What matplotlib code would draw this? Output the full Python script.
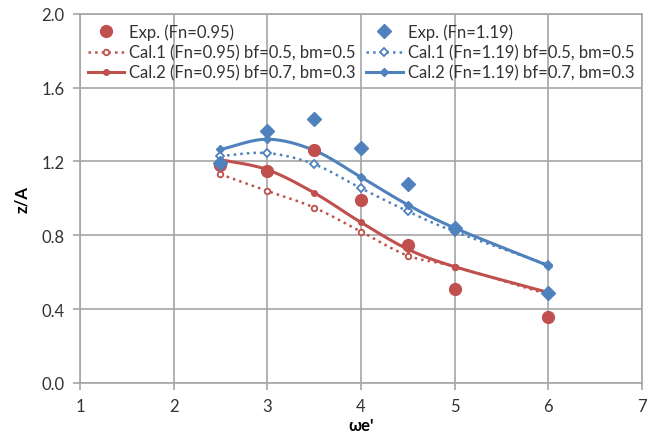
import numpy as np
import matplotlib
matplotlib.use("Agg")
import matplotlib.pyplot as plt

plt.rcParams['font.family'] = ['Lato', 'DejaVu Sans']

# data
x_exp = [2.5, 3, 3.5, 4, 4.5, 5, 6]
exp_095 = [1.18, 1.15, 1.26, 0.99, 0.75, 0.51, 0.36]
exp_119 = [1.19, 1.365, 1.43, 1.27, 1.08, 0.84, 0.49]

x_cal = [2.5, 3, 3.5, 4, 4.5, 5, 6]
cal1_095 = [1.13, 1.04, 0.95, 0.82, 0.69, 0.63, 0.48]
cal2_095 = [1.21, 1.155, 1.03, 0.87, 0.725, 0.63, 0.49]
cal1_119 = [1.23, 1.245, 1.185, 1.055, 0.93, 0.82, 0.64]
cal2_119 = [1.265, 1.32, 1.26, 1.115, 0.965, 0.84, 0.635]

red = '#C0504D'
blue = '#4F81BD'


def smooth(xs, ys, n=20):
    # catmull-rom style curve like excel's smoothed line
    xs = np.asarray(xs, float)
    ys = np.asarray(ys, float)
    px = np.concatenate([[2 * xs[0] - xs[1]], xs, [2 * xs[-1] - xs[-2]]])
    py = np.concatenate([[2 * ys[0] - ys[1]], ys, [2 * ys[-1] - ys[-2]]])
    outx, outy = [], []
    t = np.linspace(0, 1, n)
    for i in range(1, len(px) - 2):
        for p, out in ((px, outx), (py, outy)):
            p0, p1, p2, p3 = p[i - 1], p[i], p[i + 1], p[i + 2]
            c = 0.5 * ((2 * p1) + (-p0 + p2) * t + (2 * p0 - 5 * p1 + 4 * p2 - p3) * t ** 2
                       + (-p0 + 3 * p1 - 3 * p2 + p3) * t ** 3)
            out.extend(c)
    return outx, outy


fig = plt.figure(figsize=(6.53, 4.39), dpi=100)
ax = fig.add_axes([0.1225, 0.1253, 0.8605, 0.8412])

handles = []
h, = ax.plot(x_exp, exp_095, 'o', color=red, ms=8.5, label='Exp. (Fn=0.95)', zorder=5)
handles.append(h)

sx, sy = smooth(x_cal, cal1_095)
ax.plot(sx, sy, ':', color=red, lw=1.8, zorder=3)
ax.plot(x_cal, cal1_095, 'o', color=red, mfc='white', mew=1.3, ms=4, zorder=4)
h, = ax.plot([], [], ':', color=red, lw=1.8, marker='o', mfc='white', mew=1.3, ms=4,
             label='Cal.1 (Fn=0.95) bf=0.5, bm=0.5')
handles.append(h)

sx, sy = smooth(x_cal, cal2_095)
ax.plot(sx, sy, '-', color=red, lw=2.2, zorder=3)
ax.plot(x_cal, cal2_095, 'o', color=red, ms=4, zorder=4)
h, = ax.plot([], [], '-', color=red, lw=2.2, marker='o', ms=4,
             label='Cal.2 (Fn=0.95) bf=0.7, bm=0.3')
handles.append(h)

h, = ax.plot(x_exp, exp_119, 'D', color=blue, ms=7, label='Exp. (Fn=1.19)', zorder=5)
handles.append(h)

sx, sy = smooth(x_cal, cal1_119)
ax.plot(sx, sy, ':', color=blue, lw=1.8, zorder=3)
ax.plot(x_cal, cal1_119, 'D', color=blue, mfc='white', mew=1.3, ms=4, zorder=4)
h, = ax.plot([], [], ':', color=blue, lw=1.8, marker='D', mfc='white', mew=1.3, ms=4,
             label='Cal.1 (Fn=1.19) bf=0.5, bm=0.5')
handles.append(h)

sx, sy = smooth(x_cal, cal2_119)
ax.plot(sx, sy, '-', color=blue, lw=2.2, zorder=3)
ax.plot(x_cal, cal2_119, 'D', color=blue, ms=4, zorder=4)
h, = ax.plot([], [], '-', color=blue, lw=2.2, marker='D', ms=4,
             label='Cal.2 (Fn=1.19) bf=0.7, bm=0.3')
handles.append(h)

ax.set_xlim(1, 7)
ax.set_ylim(0, 2.0)
ax.set_xticks(range(1, 8))
ax.set_yticks(np.arange(0, 2.01, 0.4))
ax.set_yticklabels(['%.1f' % v for v in np.arange(0, 2.01, 0.4)])
ax.grid(True, color='#A6A6A6', lw=1.2)
ax.set_axisbelow(True)
for s in ax.spines.values():
    s.set_color('#A6A6A6')
    s.set_linewidth(1.2)
ax.tick_params(colors='#A6A6A6', labelcolor='#333333', labelsize=12, length=5, width=1.2)
ax.tick_params(axis='y', pad=6)
ax.tick_params(axis='x', pad=6)

ax.set_xlabel("ωe'", fontsize=12, fontweight='bold', labelpad=2)
ax.set_ylabel('z/A', fontsize=12, fontweight='bold', labelpad=8)

leg = ax.legend(handles=handles, ncol=2, loc='upper center', bbox_to_anchor=(0.5, 1.0),
                frameon=True, fontsize=12, handlelength=2.2, columnspacing=0.6,
                handletextpad=0.3, labelspacing=0.25, borderaxespad=0.2)
leg.get_frame().set_facecolor('white')
leg.get_frame().set_edgecolor('none')
leg.get_frame().set_alpha(0)
for t in leg.get_texts():
    t.set_color('#333333')

fig.savefig('out.png', dpi=100)
